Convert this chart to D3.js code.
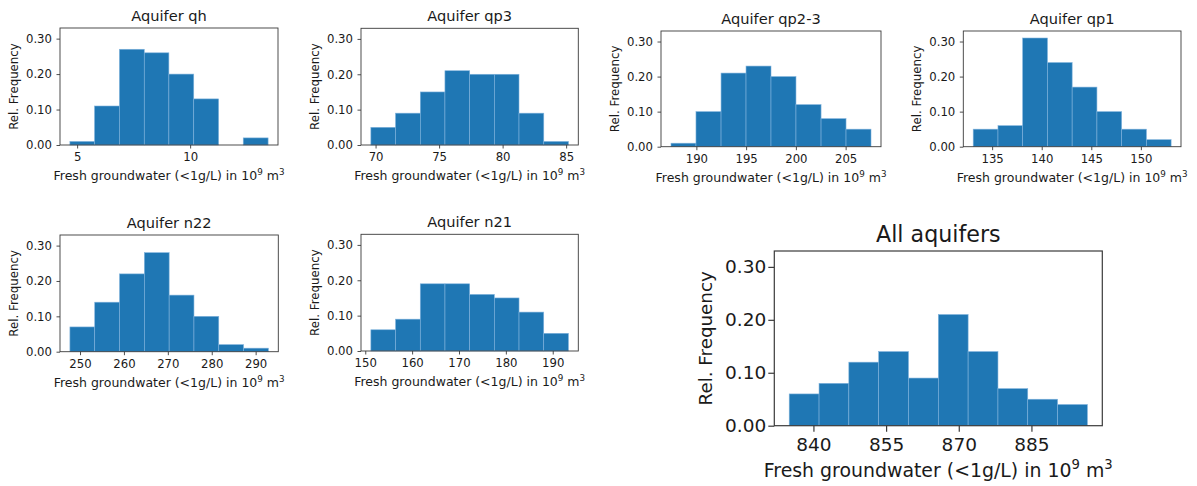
<!DOCTYPE html>
<html>
<head>
<meta charset="utf-8">
<script src="https://cdn.jsdelivr.net/npm/d3@7"></script>
<style>
  html, body { margin: 0; padding: 0; background: #fff; }
  svg { display: block; font-family: "DejaVu Sans", sans-serif; }
</style>
</head>
<body>
<svg id="chart" width="1197" height="486"></svg>
<script>
// ---------- data ----------
const qhEdges   = [4.68, 5.77, 6.87, 7.97, 9.06, 10.16, 11.26, 12.35, 13.45];
const qhFreq    = [0.01, 0.11, 0.27, 0.26, 0.20, 0.13, 0.00, 0.02];
const qhTicks   = [5, 10];

const qp3Edges  = [69.63, 71.57, 73.52, 75.46, 77.41, 79.35, 81.29, 83.24, 85.18];
const qp3Freq   = [0.05, 0.09, 0.15, 0.21, 0.20, 0.20, 0.09, 0.01];
const qp3Ticks  = [70, 75, 80, 85];

const qp23Edges = [187.45, 189.96, 192.48, 194.99, 197.50, 200.01, 202.53, 205.04, 207.55];
const qp23Freq  = [0.01, 0.10, 0.21, 0.23, 0.20, 0.12, 0.08, 0.05];
const qp23Ticks = [190, 195, 200, 205];

const qp1Edges  = [133.09, 135.59, 138.08, 140.58, 143.07, 145.57, 148.06, 150.56, 153.05];
const qp1Freq   = [0.05, 0.06, 0.31, 0.24, 0.17, 0.10, 0.05, 0.02];
const qp1Ticks  = [135, 140, 145, 150];

const n22Edges  = [247.70, 253.35, 259.00, 264.65, 270.30, 275.95, 281.60, 287.25, 292.90];
const n22Freq   = [0.07, 0.14, 0.22, 0.28, 0.16, 0.10, 0.02, 0.01];
const n22Ticks  = [250, 260, 270, 280, 290];

const n21Edges  = [151.20, 156.47, 161.74, 167.01, 172.28, 177.54, 182.81, 188.08, 193.35];
const n21Freq   = [0.06, 0.09, 0.19, 0.19, 0.16, 0.15, 0.11, 0.05];
const n21Ticks  = [150, 160, 170, 180, 190];

const allEdges  = [835.00, 841.16, 847.31, 853.47, 859.62, 865.78, 871.93, 878.09, 884.24, 890.40, 896.55];
const allFreq   = [0.06, 0.08, 0.12, 0.14, 0.09, 0.21, 0.14, 0.07, 0.05, 0.04];
const allTicks  = [840, 855, 870, 885];

const yTicks    = [0.00, 0.10, 0.20, 0.30];
const yMax      = 0.33;
const titles    = ["Aquifer qh", "Aquifer qp3", "Aquifer qp2-3", "Aquifer qp1", "Aquifer n22", "Aquifer n21", "All aquifers"];
const yLabelText = "Rel. Frequency";

// ---------- layout ----------
const small = {title: 14.6, tick: 11.7, xlabel: 12.5, ylabel: 11.8, tickLen: 3.5, tickW: 0.9, titleOff: 7.3, xTickOff: 16.7, xLabOff: 35, yLabOff: 46, yPad: 4.5};
const big   = {title: 22.2, tick: 18.5, xlabel: 18.9, ylabel: 18.3, tickLen: 6, tickW: 1.2, titleOff: 9.3, xTickOff: 26, xLabOff: 51, yLabOff: 68.6, yPad: 2};

const panels = [
  {edges: qhEdges,   freq: qhFreq,   ticks: qhTicks,   title: titles[0], box: [60, 28, 278, 145],        st: small},
  {edges: qp3Edges,  freq: qp3Freq,  ticks: qp3Ticks,  title: titles[1], box: [361, 28.3, 578.3, 145],   st: small},
  {edges: qp23Edges, freq: qp23Freq, ticks: qp23Ticks, title: titles[2], box: [661, 31, 881, 146.7],     st: small},
  {edges: qp1Edges,  freq: qp1Freq,  ticks: qp1Ticks,  title: titles[3], box: [963.3, 31, 1181, 146.7],  st: small},
  {edges: n22Edges,  freq: n22Freq,  ticks: n22Ticks,  title: titles[4], box: [60, 235, 278.3, 351.7],   st: small},
  {edges: n21Edges,  freq: n21Freq,  ticks: n21Ticks,  title: titles[5], box: [361, 234.3, 578.3, 351],  st: small},
  {edges: allEdges,  freq: allFreq,  ticks: allTicks,  title: titles[6], box: [774.3, 251, 1102.3, 425.7], st: big}
];

const svg = d3.select("#chart");
const barColor = "#1f77b4";
const textColor = "#1a1a1a";
const frameColor = "#3a3a3a";

panels.forEach(p => {
  const [x0, y0, x1, y1] = p.box;
  const st = p.st;
  const lo = p.edges[0], hi = p.edges[p.edges.length - 1];
  const pad = (hi - lo) * 0.05;
  const x = d3.scaleLinear().domain([lo - pad, hi + pad]).range([x0, x1]);
  const y = d3.scaleLinear().domain([0, yMax]).range([y1, y0]);

  const g = svg.append("g");

  const bins = p.freq.map((f, i) => ({a: p.edges[i], b: p.edges[i + 1], f}));
  g.selectAll("rect.bar").data(bins.filter(d => d.f > 0)).enter().append("rect")
    .attr("class", "bar")
    .attr("x", d => x(d.a))
    .attr("width", d => x(d.b) - x(d.a))
    .attr("y", d => y(d.f))
    .attr("height", d => y(0) - y(d.f))
    .attr("fill", barColor)
    .attr("stroke", "#7fb2dc")
    .attr("stroke-width", 0.6);

  // axes
  const xAxis = d3.axisBottom(x).tickValues(p.ticks).tickFormat(d3.format("d"))
    .tickSize(st.tickLen).tickPadding(st.xTickOff - st.tickLen - st.tick * 0.76);
  const gx = g.append("g").attr("transform", `translate(0,${y1})`).call(xAxis);
  const yAxis = d3.axisLeft(y).tickValues(yTicks).tickFormat(d3.format(".2f"))
    .tickSize(st.tickLen).tickPadding(st.yPad);
  const gy = g.append("g").attr("transform", `translate(${x0},0)`).call(yAxis);
  [gx, gy].forEach(a => {
    a.select(".domain").remove();
    a.selectAll(".tick line").attr("stroke", frameColor).attr("stroke-width", st.tickW);
    a.selectAll(".tick text").attr("fill", textColor).attr("font-size", st.tick)
      .attr("font-family", "DejaVu Sans");
  });

  // frame
  g.append("rect").attr("x", x0).attr("y", y0).attr("width", x1 - x0).attr("height", y1 - y0)
    .attr("fill", "none").attr("stroke", frameColor).attr("stroke-width", st.tickW);

  // title
  g.append("text").attr("x", (x0 + x1) / 2).attr("y", y0 - st.titleOff)
    .attr("text-anchor", "middle").attr("font-size", st.title).attr("fill", textColor)
    .text(p.title);

  // x label with superscripts
  const xl = g.append("text").attr("x", (x0 + x1) / 2).attr("y", y1 + st.xLabOff)
    .attr("text-anchor", "middle").attr("font-size", st.xlabel).attr("fill", textColor);
  xl.append("tspan").text("Fresh groundwater (<1g/L) in 10");
  xl.append("tspan").attr("font-size", st.xlabel * 0.7).attr("dy", -st.xlabel * 0.4).text("9");
  xl.append("tspan").attr("dy", st.xlabel * 0.4).text(" m");
  xl.append("tspan").attr("font-size", st.xlabel * 0.7).attr("dy", -st.xlabel * 0.4).text("3");

  // y label
  g.append("text")
    .attr("transform", `translate(${x0 - st.yLabOff},${(y0 + y1) / 2}) rotate(-90)`)
    .attr("text-anchor", "middle").attr("dominant-baseline", "central")
    .attr("font-size", st.ylabel).attr("fill", textColor)
    .text(yLabelText);
});
</script>
</body>
</html>
